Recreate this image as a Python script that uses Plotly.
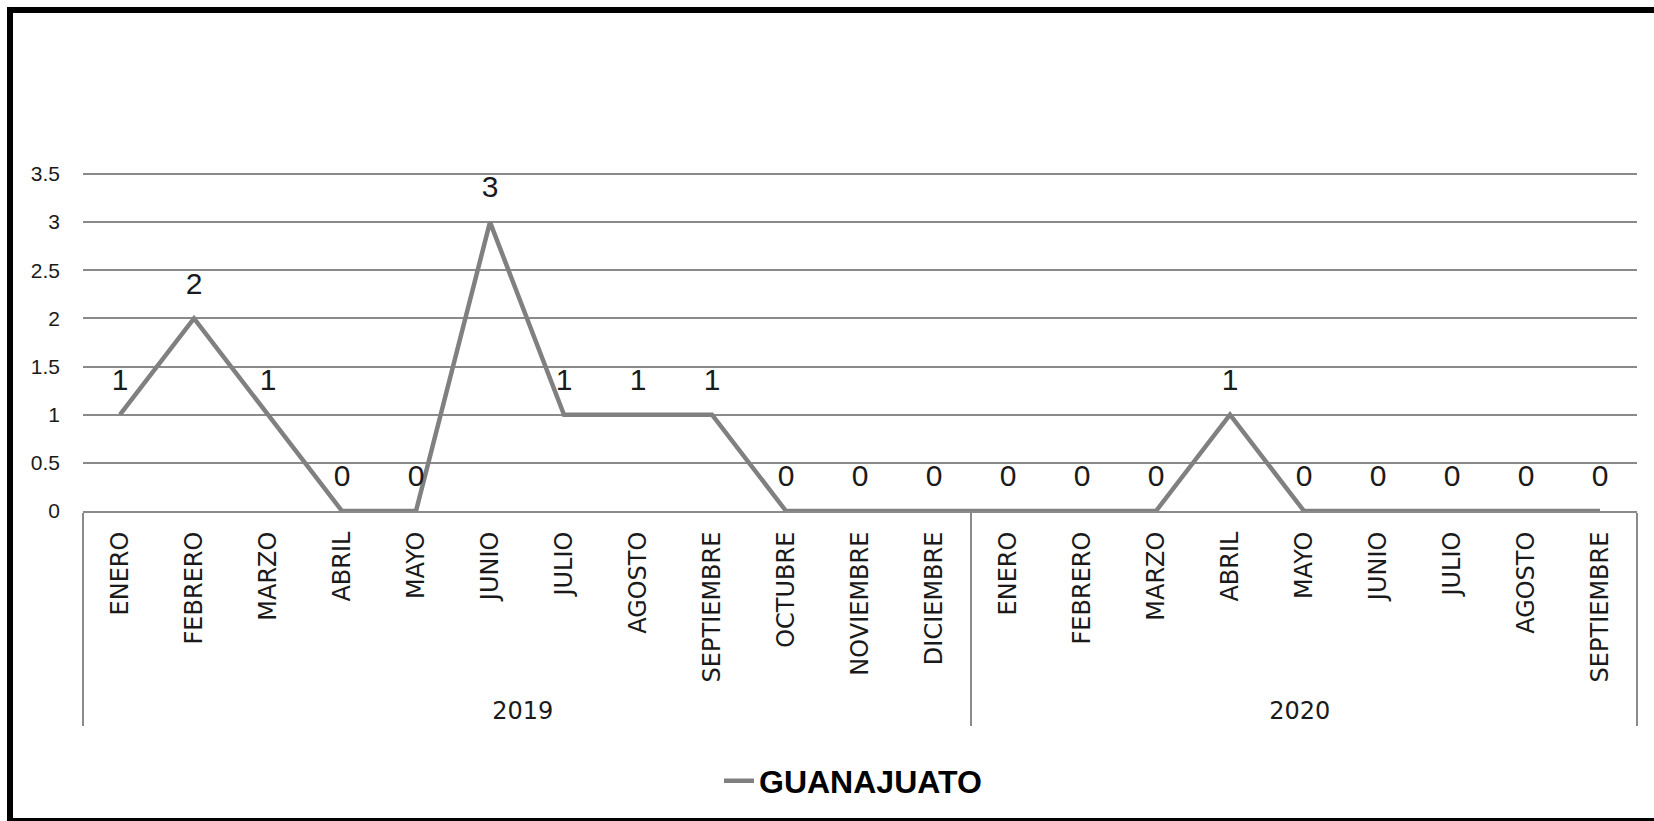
import plotly.graph_objects as go

years = ["2019"] * 12 + ["2020"] * 9
months = ["ENERO", "FEBRERO", "MARZO", "ABRIL", "MAYO", "JUNIO", "JULIO", "AGOSTO",
          "SEPTIEMBRE", "OCTUBRE", "NOVIEMBRE", "DICIEMBRE",
          "ENERO", "FEBRERO", "MARZO", "ABRIL", "MAYO", "JUNIO", "JULIO", "AGOSTO",
          "SEPTIEMBRE"]
values = [1, 2, 1, 0, 0, 3, 1, 1, 1, 0, 0, 0, 0, 0, 0, 1, 0, 0, 0, 0, 0]
series_name = "GUANAJUATO"

W, H = 1654, 821
ML, MR, MT, MB = 83, 17, 172, 310
PW = W - ML - MR
PH = H - MT - MB

fig = go.Figure()
fig.add_trace(go.Scatter(
    x=[years, months],
    y=values,
    name=series_name,
    mode="lines+markers+text",
    line=dict(color="#808080", width=4.5),
    marker=dict(size=26, color="rgba(0,0,0,0)"),
    text=[str(v) for v in values],
    textposition="top center",
    textfont=dict(family="Liberation Sans", size=30, color="#1a1a1a"),
    cliponaxis=False,
    showlegend=True,
))

def px_x(px):
    return (px - ML) / PW

def px_y(py):
    return (H - MB - py) / PH

border = dict(color="black", width=6)
fig.update_layout(
    width=W, height=H,
    margin=dict(l=ML, r=MR, t=MT, b=MB),
    paper_bgcolor="white",
    plot_bgcolor="white",
    showlegend=True,
    legend=dict(
        orientation="h",
        x=px_x(853), xanchor="center",
        y=px_y(781), yanchor="middle",
        font=dict(family="Liberation Sans", size=32, color="black", weight="bold"),
        bgcolor="rgba(0,0,0,0)",
    ),
    xaxis=dict(
        type="multicategory",
        range=[-0.5, len(values) - 0.5],
        showline=True, linecolor="#8a8a8a", linewidth=2,
        showdividers=True, dividercolor="#8a8a8a", dividerwidth=2,
        tickangle=-90,
        tickfont=dict(family="DejaVu Sans", size=24, color="#1a1a1a"),
        ticklabelstandoff=9,
        showgrid=False,
        ticks="",
    ),
    yaxis=dict(
        range=[0, 3.52], dtick=0.5, tick0=0,
        showgrid=True, gridcolor="#8a8a8a", gridwidth=2,
        zeroline=False, showline=False,
        tickfont=dict(family="Liberation Sans", size=21, color="#1a1a1a"),
        ticklabelstandoff=22,
    ),
    shapes=[
        dict(type="line", xref="paper", yref="paper",
             x0=px_x(10), x1=px_x(10), y0=px_y(824), y1=px_y(7), line=border),
        dict(type="line", xref="paper", yref="paper",
             x0=px_x(7), x1=px_x(1660), y0=px_y(10), y1=px_y(10), line=border),
        dict(type="line", xref="paper", yref="paper",
             x0=px_x(7), x1=px_x(1660), y0=px_y(821), y1=px_y(821), line=border),
    ],
)

fig.write_html(
    "out.html",
    config={"displayModeBar": False},
    post_script=(
        "document.documentElement.style.overflow='hidden';"
        "document.documentElement.style.background='white';"
        "document.body.style.margin='0px';"
        "document.body.style.overflow='hidden';"
        "document.body.style.background='white';"
    ),
)
